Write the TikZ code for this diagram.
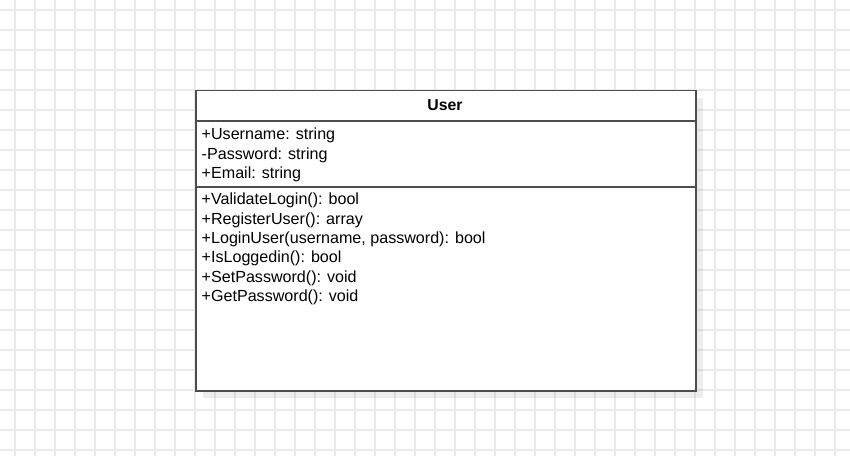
\documentclass[tikz,border=0pt]{standalone}
\usepackage{fontspec}
\setmainfont{Liberation Sans}
\definecolor{gridc}{RGB}{234,234,234}
\definecolor{linec}{RGB}{77,77,77}
\begin{document}
\begin{tikzpicture}[x=1bp,y=-1bp,
  gridline/.style={draw=gridc, line width=1.3bp},
  umlbox/.style={draw=linec, line width=1.5bp, fill=white, inner sep=0pt},
  sep/.style={draw=linec, line width=1.5bp},
  member/.style={anchor=base west, inner sep=0pt, font=\fontsize{16.1bp}{19.3bp}\selectfont},
  umltitle/.style={anchor=base, inner sep=0pt, font=\fontsize{15.8bp}{19.3bp}\selectfont\bfseries}]
\useasboundingbox (0,0) rectangle (850,456);
\fill[white] (0,0) rectangle (850,456);
\foreach \x in {15,35,...,835} \draw[gridline] (\x,0) -- (\x,456);
\foreach \y in {10,30,...,450} \draw[gridline] (0,\y) -- (850,\y);
% shadow
\fill[black, opacity=0.07] (203,98) rectangle (703,398);
% class box
\node[umlbox, minimum width=500bp, minimum height=300bp, anchor=north west] (cls) at (195,90) {};
\coordinate (s1l) at (195,121); \coordinate (s1r) at (695,121);
\coordinate (s2l) at (195,187); \coordinate (s2r) at (695,187);
\draw[sep] (s1l) -- (s1r);
\draw[sep] (s2l) -- (s2r);
\node[umltitle] (title) at (445,110.6) {User};
\node[member] (a1) at (201.5,140.0) {+Username: string};
\node[member] (a2) at (201.5,159.3) {-Password: string};
\node[member] (a3) at (201.5,178.6) {+Email: string};
\node[member] (m1) at (201.5,205.0) {+ValidateLogin(): bool};
\node[member] (m2) at (201.5,224.3) {+RegisterUser(): array};
\node[member] (m3) at (201.5,243.6) {+LoginUser(username, password): bool};
\node[member] (m4) at (201.5,262.9) {+IsLoggedin(): bool};
\node[member] (m5) at (201.5,282.2) {+SetPassword(): void};
\node[member] (m6) at (201.5,301.5) {+GetPassword(): void};
\end{tikzpicture}
\end{document}
